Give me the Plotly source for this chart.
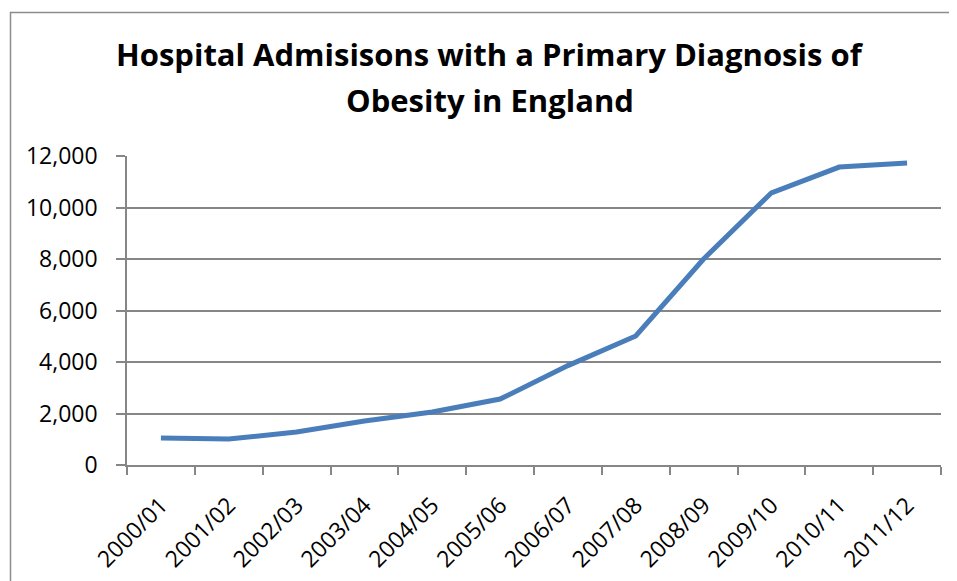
import plotly.graph_objects as go

years = ["2000/01", "2001/02", "2002/03", "2003/04", "2004/05", "2005/06",
         "2006/07", "2007/08", "2008/09", "2009/10", "2010/11", "2011/12"]
admissions = [1050, 1010, 1280, 1710, 2060, 2560, 3860, 5010, 8000, 10570, 11570, 11730]

title_line1 = "Hospital Admisisons with a Primary Diagnosis of"
title_line2 = "Obesity in England"

# page body has an 8px margin: figure coordinates = screen - 8
OFF = 8
W, H = 957 - OFF, 581 - OFF
L, R, T, B = 127 - OFF, 16, 156 - OFF, 116
ph = H - T - B
pw = W - L - R

def py(y):
    return (H - B - (y - OFF)) / ph

def px(x):
    return ((x - OFF) - L) / pw

FONT = "Open Sans"
GRAY = "#868686"

fig = go.Figure()
fig.add_trace(go.Scatter(
    x=years, y=admissions, mode="lines",
    line=dict(color="#4A7EBB", width=5),
    hoverinfo="x+y", showlegend=False,
))

fig.update_layout(
    template="none",
    width=W, height=H,
    margin=dict(l=L, r=R, t=T, b=B, autoexpand=False),
    paper_bgcolor="white", plot_bgcolor="white",
    font=dict(family=FONT, color="black", size=22),
    xaxis=dict(
        type="category", range=[-0.5, 11.5], automargin=False,
        showline=True, linecolor=GRAY, linewidth=1.5,
        ticks="outside", tickson="boundaries", ticklen=8, tickcolor=GRAY, tickwidth=1.5,
        showgrid=False, tickangle=-45, ticklabelstandoff=16,
        tickfont=dict(family=FONT, size=23, color="black"),
    ),
    yaxis=dict(
        range=[0, 12000], tickvals=[0, 2000, 4000, 6000, 8000, 10000, 12000],
        ticktext=["0", "2,000", "4,000", "6,000", "8,000", "10,000", "12,000"],
        automargin=False,
        showline=True, linecolor=GRAY, linewidth=1.5,
        ticks="outside", ticklen=9, tickcolor=GRAY, tickwidth=1.5,
        showgrid=True, gridcolor=GRAY, gridwidth=1.5,
        zeroline=False, ticklabelstandoff=14,
        tickfont=dict(family=FONT, size=23, color="black"),
    ),
    shapes=[dict(
        type="rect", xref="paper", yref="paper",
        x0=px(10.5), x1=px(957 + 20), y0=py(12.5), y1=py(581 + 20),
        line=dict(color="#8C8C8C", width=1.5), fillcolor="rgba(0,0,0,0)", layer="below",
    )],
    annotations=[
        dict(text="<b>%s</b>" % title_line1, xref="paper", yref="paper",
             x=px(490), y=py(54), xanchor="center", yanchor="middle",
             showarrow=False, font=dict(family=FONT, size=31, color="black")),
        dict(text="<b>%s</b>" % title_line2, xref="paper", yref="paper",
             x=px(490), y=py(99.5), xanchor="center", yanchor="middle",
             showarrow=False, font=dict(family=FONT, size=31, color="black")),
    ],
)

fig.write_html("out.html")
